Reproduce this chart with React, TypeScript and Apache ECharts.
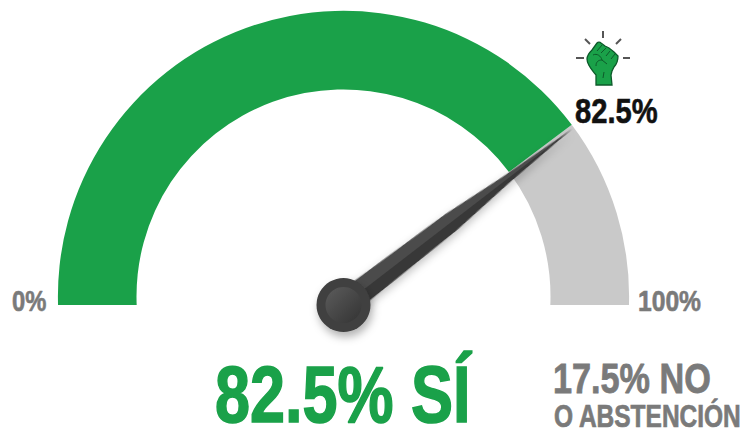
import React, { useEffect, useRef } from "react";
import * as echarts from "echarts";

const yesValue = 82.5;
const scaleEndLabels = ["0%", "100%"];
const readoutLabel = "82.5%";
const mainLabel = "82.5% SÍ";
const sideLabels = ["17.5% NO", "O ABSTENCIÓN"];
// The drawn dial places 82.5 about 143° along its half circle, so its scale runs past 100.
const dialMax = 104.3;

const GREEN = "#1aa149";
const GREY = "#c9c9c9";
const TEXT_GREY = "#7a7a7a";
const FONT = '"Liberation Sans", Arial, sans-serif';

const fistBody =
  "M9 43 L9 33 C5 28 0 23 0 17 C0 13 3 10 5 8 L10 1 C11 0 13 0 14 1 L18 4 L22 6 L27 10 L31 14 C31 18 30 22 27 25 L25 29 L24 33 L25 43 Z";
const fistLines =
  "M10 9 L15 3 M14 11 L19 6 M19 14 L23 9 M24 17 L28 12 M6 13 C10 11 14 14 15 18 C11 18 9 20 9 24 M15 18 L20 22 M17 30 L16 36";

echarts.graphic.registerShape("fistBody", echarts.graphic.extendPath(fistBody, {}));
echarts.graphic.registerShape("fistLines", echarts.graphic.extendPath(fistLines, {}));

const blank = {
  axisTick: { show: false },
  splitLine: { show: false },
  axisLabel: { show: false },
  title: { show: false },
  detail: { show: false },
};

function txt(x: number, y: number, text: string, size: number, fill: string, scaleX = 1, weight = 0.6) {
  return {
    type: "text",
    x,
    y,
    scaleX,
    z: 50,
    style: {
      text,
      fill,
      stroke: fill,
      lineWidth: weight,
      font: `bold ${size}px ${FONT}`,
      lineHeight: Math.round(size * 0.9),
      verticalAlign: "top",
    },
  };
}

function ray(x1: number, y1: number, x2: number, y2: number) {
  return { type: "line", z: 50, shape: { x1, y1, x2, y2 }, style: { stroke: "#555", lineWidth: 2 } };
}

export default function App() {
  const ref = useRef<HTMLDivElement>(null);
  useEffect(() => {
    document.body.style.margin = "0";
    const chart = echarts.init(ref.current!, null, { renderer: "svg" });
    chart.setOption({
      animation: false,
      backgroundColor: "#ffffff",
      series: [
        {
          type: "gauge",
          z: 1,
          center: [343.5, 296.4],
          radius: 285.6,
          startAngle: 183,
          endAngle: -3,
          min: 0,
          max: dialMax,
          pointer: { show: false },
          axisLine: {
            lineStyle: {
              width: 78.6,
              color: [
                [(yesValue - 0.6) / dialMax, GREEN],
                [1, GREY],
              ],
            },
          },
          ...blank,
          data: [{ value: yesValue, name: "SÍ" }],
        },
        {
          type: "gauge",
          z: 5,
          center: [343.5, 305],
          radius: 290,
          startAngle: 180,
          endAngle: 0,
          min: 0,
          max: dialMax,
          axisLine: { show: false },
          pointer: {
            show: true,
            icon: "path://M0 100 L12 53 L33 29 L50 0 L67 29 L88 53 L100 100 Z",
            length: 289,
            width: 26,
            itemStyle: {
              color: new echarts.graphic.LinearGradient(0, 0, 1, 0, [
                { offset: 0, color: "#4c4c4c" },
                { offset: 0.5, color: "#4c4c4c" },
                { offset: 0.5, color: "#383838" },
                { offset: 1, color: "#383838" },
              ]),
              shadowColor: "rgba(0,0,0,0.25)",
              shadowBlur: 8,
              shadowOffsetX: 3,
              shadowOffsetY: 4,
            },
          },
          anchor: {
            show: true,
            showAbove: true,
            size: 54,
            itemStyle: {
              color: "#3f3f3f",
              shadowColor: "rgba(0,0,0,0.3)",
              shadowBlur: 8,
              shadowOffsetX: 2,
              shadowOffsetY: 5,
            },
          },
          ...blank,
          data: [{ value: yesValue, name: "SÍ" }],
        },
      ],
      graphic: {
        elements: [
          { type: "rect", z: 40, shape: { x: 40, y: 305, width: 110, height: 16 }, style: { fill: "#fff" } },
          { type: "rect", z: 40, shape: { x: 540, y: 305, width: 100, height: 16 }, style: { fill: "#fff" } },
          {
            type: "circle",
            z: 45,
            shape: { cx: 343.5, cy: 305, r: 18 },
            style: {
              fill: new echarts.graphic.LinearGradient(0, 0, 1, 1, [
                { offset: 0, color: "#5c5c5c" },
                { offset: 1, color: "#333333" },
              ]),
            },
          },
          ray(576, 58, 584, 58),
          ray(623, 58, 630, 58),
          ray(603, 31, 603, 38),
          ray(585, 39, 590, 44),
          ray(621, 39, 616, 44),
          { type: "fistBody", z: 50, x: 587, y: 42, style: { fill: GREEN, stroke: "#0d5a2a", lineWidth: 1.3 } },
          { type: "fistLines", z: 51, x: 587, y: 42, style: { fill: "none", stroke: "#0d5a2a", lineWidth: 1 } },
          txt(575, 94, readoutLabel, 36, "#111111", 0.81),
          txt(12, 288, scaleEndLabels[0], 29, TEXT_GREY, 0.82),
          txt(638, 288, scaleEndLabels[1], 29, TEXT_GREY, 0.85),
          txt(215, 358, mainLabel, 80, GREEN, 0.787, 1.6),
          txt(553, 359, sideLabels[0], 42, TEXT_GREY, 0.815, 0.8),
          txt(554, 402, sideLabels[1], 31, TEXT_GREY, 0.79, 0.7),
        ],
      },
    });
    return () => chart.dispose();
  }, []);
  return <div ref={ref} style={{ position: "fixed", left: 0, top: 0, width: 747, height: 430 }} />;
}
